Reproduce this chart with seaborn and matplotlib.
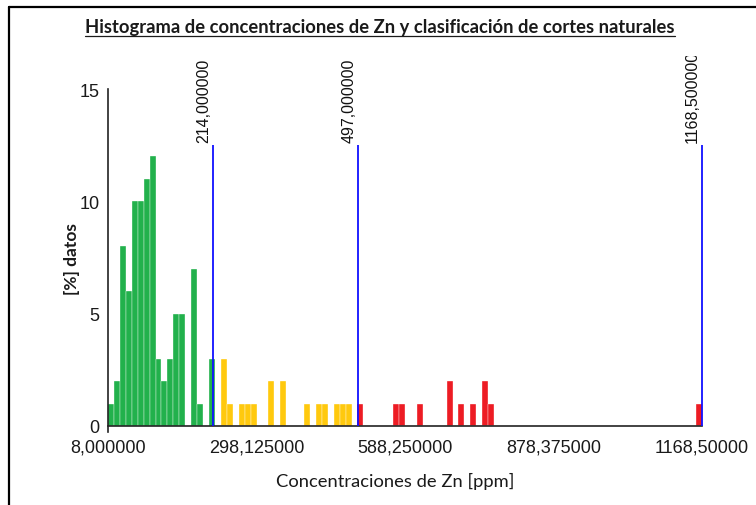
import matplotlib
matplotlib.use("Agg")
import matplotlib.pyplot as plt
from matplotlib.lines import Line2D
import pandas as pd
import seaborn as sns

# Zn concentration (ppm) at the centre of each histogram bin and the share of
# samples [%] in that bin, grouped by natural-breaks class
zn_low = [13.8, 25.4, 37.0, 48.6, 60.2, 71.8, 83.4, 95.0, 106.6, 118.2,
          129.9, 141.5, 153.1, 176.3, 187.9, 211.1]
pct_low = [1, 2, 8, 6, 10, 10, 11, 12, 3, 2, 3, 5, 5, 7, 1, 3]

zn_mid = [234.3, 245.9, 269.1, 280.7, 292.3, 327.1, 350.3, 396.8, 420.0,
          431.6, 454.8, 466.4, 478.0]
pct_mid = [3, 1, 1, 1, 1, 2, 2, 1, 1, 1, 1, 1, 1]

zn_high = [501.2, 570.8, 582.4, 617.2, 675.3, 698.5, 721.7, 744.9, 756.5, 1162.7]
pct_high = [1, 1, 1, 1, 2, 1, 1, 2, 1, 1]

class_names = ["bajo", "medio", "alto"]
class_colors = ["#22B14C", "#FFC90E", "#ED1C24"]

# natural-breaks limits
breaks = [214.0, 497.0, 1168.5]
break_labels = ["214,000000", "497,000000", "1168,500000"]

x_ticks = [8.0, 298.125, 588.25, 878.375, 1168.5]
x_tick_labels = ["8,000000", "298,125000", "588,250000", "878,375000", "1168,50000"]
y_ticks = [0, 5, 10, 15]

n_bins = 100
zn_min, zn_max = 8.0, 1168.5

df = pd.DataFrame({
    "zn": zn_low + zn_mid + zn_high,
    "pct": pct_low + pct_mid + pct_high,
    "clase": [class_names[0]] * len(zn_low)
             + [class_names[1]] * len(zn_mid)
             + [class_names[2]] * len(zn_high),
})

sns.set_style("white")
plt.rcParams["font.family"] = ["Liberation Sans", "DejaVu Sans"]

W, H = 756, 506
fig = plt.figure(figsize=(W / 100, H / 100), dpi=100)


def fx(px):
    return px / W


def fy(py):
    return 1 - py / H


ax_top, ax_bottom = 57, 432.6
ax = fig.add_axes([fx(108), fy(ax_bottom), fx(702 - 108), (ax_bottom - ax_top) / H])

sns.histplot(
    data=df, x="zn", weights="pct", hue="clase",
    hue_order=class_names, palette=dict(zip(class_names, class_colors)),
    bins=n_bins, binrange=(zn_min, zn_max), multiple="layer",
    alpha=1, linewidth=0.25, edgecolor="white", legend=False, ax=ax,
)

ax.set_xlim(zn_min, zn_max)
ax.set_ylim(-0.25, 16.47)

# class limits with their values written along the line
for b, lab in zip(breaks, break_labels):
    ax.vlines(b, 0, 12.5, color="#1010FF", linewidth=1.3, zorder=3, clip_on=False)
    ax.annotate(lab, xy=(b, 12.5), xytext=(-1.5, 2.5), textcoords="offset points",
                rotation=90, ha="right", va="bottom", fontsize=11.5,
                color="#111111", clip_on=True, annotation_clip=False)

for side in ("top", "right"):
    ax.spines[side].set_visible(False)
ax.spines["left"].set_bounds(-0.25, 15)
ax.spines["bottom"].set_position(("data", 0))
ax.spines["bottom"].set_bounds(zn_min, zn_max)
for side in ("left", "bottom"):
    ax.spines[side].set_color("#222222")
    ax.spines[side].set_linewidth(1.2)

ax.set_xticks(x_ticks)
ax.set_xticklabels(x_tick_labels)
ax.set_yticks(y_ticks)
ax.set_yticklabels([str(v) for v in y_ticks])
ax.tick_params(axis="x", direction="out", length=7.5, width=1.1, color="#222222",
               labelsize=13, pad=1.5, labelcolor="#1a1a1a")
ax.tick_params(axis="y", direction="inout", length=11.5, width=1.1, color="#222222",
               labelsize=13, pad=0.5, labelcolor="#1a1a1a")
ax.set_xlabel("")
ax.set_ylabel("")
ax.grid(False)
ax.patch.set_alpha(0)

title = fig.text(fx(380), fy(27), "Histograma de concentraciones de Zn y clasificación de cortes naturales",
                 ha="center", va="center", fontsize=13.2, fontweight="bold",
                 family=["Lato", "DejaVu Sans"], color="#1a1a1a")
fig.text(fx(72), fy(259), "[%] datos", rotation=90, ha="center", va="center",
         fontsize=12.5, fontweight="bold", family=["Lato", "DejaVu Sans"], color="#1a1a1a")
fig.text(fx(395), fy(481), "Concentraciones de Zn [ppm]", ha="center", va="center",
         fontsize=13.2, family=["Lato", "DejaVu Sans"], color="#1a1a1a")

# underline below the title
fig.canvas.draw()
bb = title.get_window_extent()
fig.add_artist(Line2D([bb.x0 / W, bb.x1 / W], [fy(37), fy(37)],
                      transform=fig.transFigure, color="#1a1a1a", linewidth=0.9))

# outer frame (top and left edges)
fig.add_artist(Line2D([fx(9), 1.0], [fy(7.5), fy(7.5)], transform=fig.transFigure,
                      color="black", linewidth=1.6))
fig.add_artist(Line2D([fx(9), fx(9)], [fy(7.5), 0.0], transform=fig.transFigure,
                      color="black", linewidth=1.6))

fig.savefig("out.png", dpi=100)
